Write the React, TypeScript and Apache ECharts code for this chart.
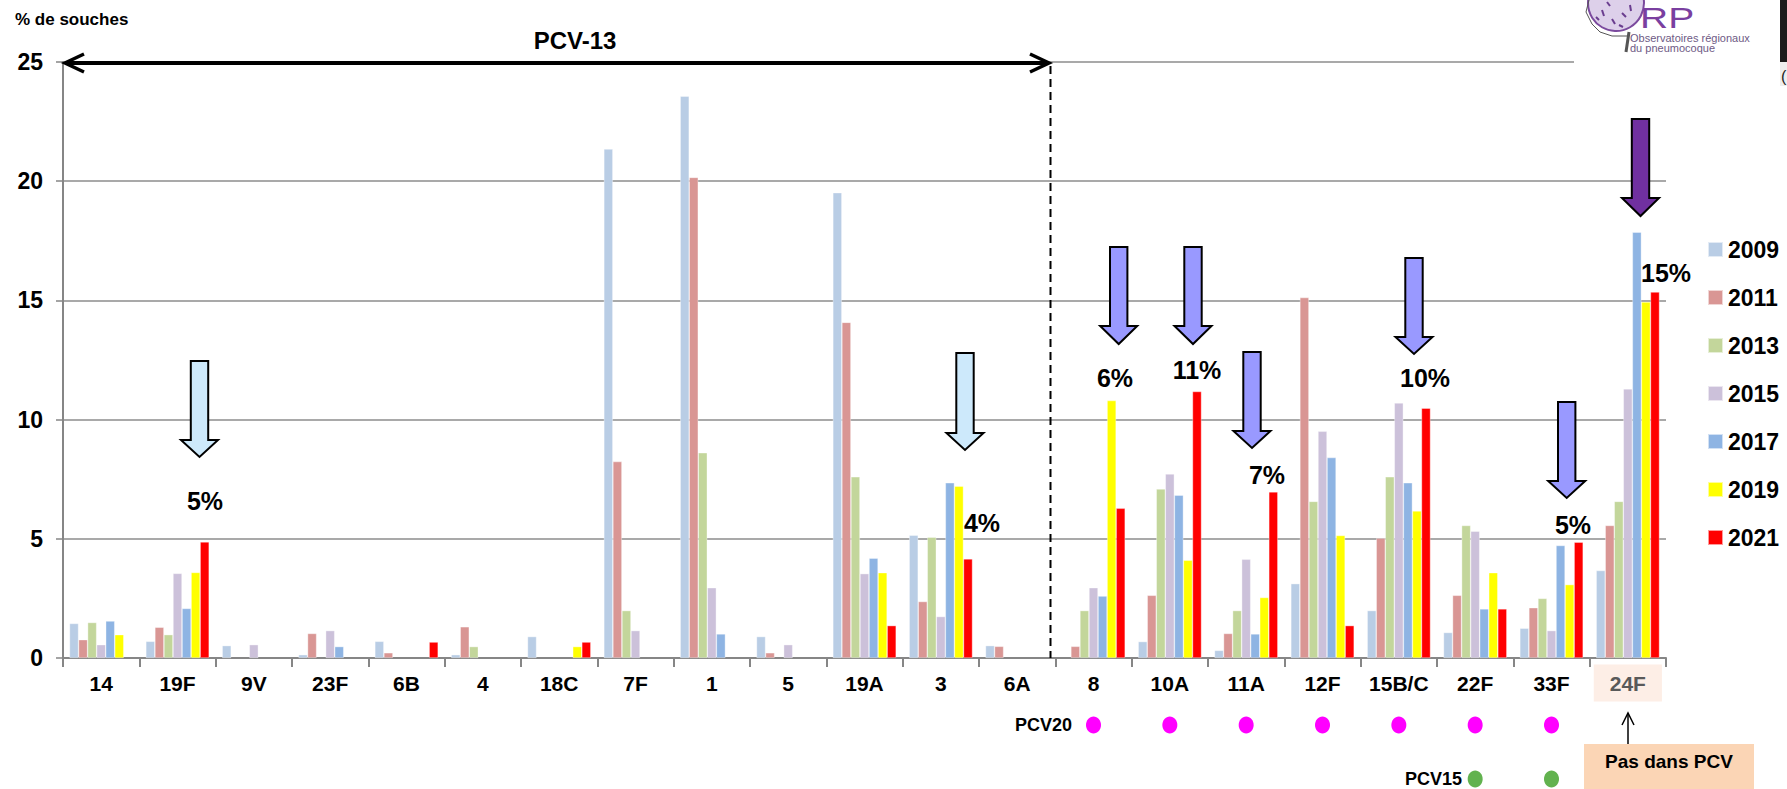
import React, { useEffect, useRef } from 'react';
import * as echarts from 'echarts';

const categories = ['14', '19F', '9V', '23F', '6B', '4', '18C', '7F', '1', '5', '19A', '3', '6A', '8', '10A', '11A', '12F', '15B/C', '22F', '33F', '24F'];
const years = ['2009', '2011', '2013', '2015', '2017', '2019', '2021'];
const colors = ['#b9cde5', '#d99694', '#c3d69b', '#ccc1da', '#8eb4e3', '#ffff00', '#ff0000'];

const v2009 = [1.45, 0.70, 0.52, 0.14, 0.70, 0.14, 0.90, 21.35, 23.57, 0.90, 19.52, 5.15, 0.52, null, 0.69, 0.32, 3.12, 1.99, 1.07, 1.25, 3.67];
const v2011 = [0.77, 1.29, null, 1.03, 0.22, 1.31, null, 8.24, 20.16, 0.22, 14.08, 2.37, 0.49, 0.49, 2.63, 1.03, 15.12, 5.03, 2.63, 2.11, 5.56];
const v2013 = [1.49, 0.98, null, null, null, 0.48, null, 1.99, 8.61, null, 7.60, 5.07, null, 1.99, 7.09, 1.99, 6.57, 7.60, 5.56, 2.50, 6.57];
const v2015 = [0.56, 3.55, 0.56, 1.15, null, null, null, 1.15, 2.95, 0.56, 3.54, 1.74, null, 2.95, 7.72, 4.14, 9.51, 10.70, 5.32, 1.15, 11.29];
const v2017 = [1.55, 2.08, null, 0.48, null, null, null, null, 1.01, null, 4.19, 7.35, null, 2.60, 6.83, 1.01, 8.41, 7.35, 2.06, 4.72, 17.86];
const v2019 = [0.98, 3.59, null, null, null, null, 0.48, null, null, null, 3.58, 7.21, null, 10.80, 4.10, 2.54, 5.14, 6.17, 3.58, 3.08, 14.93];
const v2021 = [null, 4.87, null, null, 0.67, null, 0.67, null, null, null, 1.36, 4.16, null, 6.28, 11.18, 6.97, 1.36, 10.48, 2.06, 4.86, 15.35];
const seriesValues = [v2009, v2011, v2013, v2015, v2017, v2019, v2021];

const yTicks = [0, 5, 10, 15, 20, 25];
const pcv20 = ['8', '10A', '11A', '12F', '15B/C', '22F', '33F'];
const pcv15 = ['22F', '33F'];

const FONT = 'Liberation Sans, Arial, sans-serif';

function arrowPts(cx: number, top: number, base: number, tip: number, sh = 8.7, hh = 18.5) {
  return [[cx - sh, top], [cx + sh, top], [cx + sh, base], [cx + hh, base], [cx, tip], [cx - hh, base], [cx - sh, base]];
}

const GRID = { left: 63, right: 121, top: 62, bottom: 131 };

export default function App() {
  const ref = useRef<HTMLDivElement>(null);
  useEffect(() => {
    document.body.style.margin = '0';
    if (!ref.current) return;
    const chart = echarts.init(ref.current, null, { renderer: 'svg' });
    const catW = (1787 - GRID.left - GRID.right) / categories.length;
    const cx = (c: string) => GRID.left + catW * (categories.indexOf(c) + 0.5);

    const arrows = [
      { x: 199.5, top: 361, base: 440, tip: 457, fill: '#cde9fb' },
      { x: 965, top: 353, base: 433, tip: 450, fill: '#cde9fb' },
      { x: 1118.7, top: 247, base: 326, tip: 344, fill: '#9999ff' },
      { x: 1193, top: 247, base: 326, tip: 344, fill: '#9999ff' },
      { x: 1252, top: 352, base: 431, tip: 448, fill: '#9999ff' },
      { x: 1414, top: 258, base: 337, tip: 354, fill: '#9999ff' },
      { x: 1566.7, top: 402, base: 481, tip: 498, fill: '#9999ff' },
      { x: 1640.5, top: 119, base: 198, tip: 216, fill: '#7030a0' },
    ];
    const pctLabels = [
      { t: '5%', x: 205, y: 501 },
      { t: '4%', x: 982, y: 523 },
      { t: '6%', x: 1115, y: 378 },
      { t: '11%', x: 1197, y: 370 },
      { t: '7%', x: 1267, y: 475 },
      { t: '10%', x: 1425, y: 378 },
      { t: '5%', x: 1573, y: 525 },
      { t: '15%', x: 1666, y: 273 },
    ];

    const graphic: any[] = [];
    // logo background
    graphic.push({ type: 'rect', shape: { x: 1574, y: 0, width: 213, height: 72 }, style: { fill: '#ffffff' }, z: 50 });
    graphic.push({ type: 'circle', shape: { cx: 1616, cy: 3, r: 28 }, style: { fill: '#ddd0ea', stroke: '#7b4a9e', lineWidth: 2 }, z: 51 });
    const bact = [[1602, 10, 1604, 16], [1612, 19, 1615, 24], [1622, 13, 1626, 17], [1630, 5, 1631, 11], [1607, 2, 1610, 6], [1619, 25, 1623, 27], [1596, 17, 1599, 20]];
    bact.forEach(b => graphic.push({ type: 'line', shape: { x1: b[0], y1: b[1], x2: b[2], y2: b[3] }, style: { stroke: '#6a3d8f', lineWidth: 2 }, z: 52 }));
    graphic.push({ type: 'polyline', shape: { points: [[1589, 0], [1586, 12], [1592, 24], [1600, 32], [1612, 36], [1627, 36]] }, style: { stroke: '#555', lineWidth: 1, fill: null }, z: 51 });
    graphic.push({ type: 'line', shape: { x1: 1629, y1: 32, x2: 1626, y2: 52 }, style: { stroke: '#555', lineWidth: 3 }, z: 52 });
    graphic.push({ type: 'text', x: 1640, y: 3, scaleX: 1.3, originX: 0, originY: 0, style: { text: 'RP', fill: '#7a3fa0', font: `30px ${FONT}`, textVerticalAlign: 'top' }, z: 52 });
    graphic.push({ type: 'text', x: 1630, y: 38, style: { text: 'Observatoires régionaux', fill: '#6e5a85', font: `11px ${FONT}`, textVerticalAlign: 'middle' }, z: 52 });
    graphic.push({ type: 'text', x: 1630, y: 48, style: { text: 'du pneumocoque', fill: '#6e5a85', font: `11px ${FONT}`, textVerticalAlign: 'middle' }, z: 52 });
    graphic.push({ type: 'rect', shape: { x: 1780, y: 0, width: 7, height: 62 }, style: { fill: '#1c1c1c' }, z: 52 });
    graphic.push({ type: 'rect', shape: { x: 1780, y: 62, width: 7, height: 24 }, style: { fill: '#eeeeee' }, z: 52 });
    graphic.push({ type: 'text', x: 1781, y: 76, style: { text: '(', fill: '#222', font: `16px ${FONT}`, textVerticalAlign: 'middle' }, z: 53 });

    // y axis title
    graphic.push({ type: 'text', x: 15, y: 19, style: { text: '% de souches', fill: '#000', font: `bold 17px ${FONT}`, textVerticalAlign: 'middle' }, z: 20 });
    // PCV-13 double arrow
    graphic.push({ type: 'line', shape: { x1: 65, y1: 63, x2: 1048, y2: 63 }, style: { stroke: '#000', lineWidth: 4 }, z: 20 });
    graphic.push({ type: 'polyline', shape: { points: [[84, 54], [65, 63], [84, 72]] }, style: { stroke: '#000', lineWidth: 3.5, fill: null }, z: 20 });
    graphic.push({ type: 'polyline', shape: { points: [[1030, 54], [1049, 63], [1030, 72]] }, style: { stroke: '#000', lineWidth: 3.5, fill: null }, z: 20 });
    graphic.push({ type: 'text', x: 575, y: 40, style: { text: 'PCV-13', fill: '#000', font: `bold 24px ${FONT}`, textAlign: 'center', textVerticalAlign: 'middle' }, z: 20 });
    graphic.push({ type: 'line', shape: { x1: 1050.5, y1: 66, x2: 1050.5, y2: 658 }, style: { stroke: '#000', lineWidth: 2, lineDash: [8, 5] }, z: 20 });

    arrows.forEach(a => graphic.push({ type: 'polygon', shape: { points: arrowPts(a.x, a.top, a.base, a.tip) }, style: { fill: a.fill, stroke: '#000', lineWidth: 2 }, z: 20 }));
    pctLabels.forEach(p => graphic.push({ type: 'text', x: p.x, y: p.y, style: { text: p.t, fill: '#000', font: `bold 25px ${FONT}`, textAlign: 'center', textVerticalAlign: 'middle' }, z: 21 }));

    // PCV20 / PCV15 rows
    graphic.push({ type: 'text', x: 1072, y: 725, style: { text: 'PCV20', fill: '#000', font: `bold 18px ${FONT}`, textAlign: 'right', textVerticalAlign: 'middle' }, z: 20 });
    pcv20.forEach(c => graphic.push({ type: 'ellipse', shape: { cx: cx(c), cy: 725, rx: 7.5, ry: 8.5 }, style: { fill: '#ff00ff' }, z: 20 }));
    graphic.push({ type: 'text', x: 1462, y: 779, style: { text: 'PCV15', fill: '#000', font: `bold 18px ${FONT}`, textAlign: 'right', textVerticalAlign: 'middle' }, z: 20 });
    pcv15.forEach(c => graphic.push({ type: 'ellipse', shape: { cx: cx(c), cy: 779, rx: 7.5, ry: 8.5 }, style: { fill: '#62b24f' }, z: 20 }));

    // Pas dans PCV box
    graphic.push({ type: 'rect', shape: { x: 1584, y: 744, width: 170, height: 45 }, style: { fill: '#fbd5b5' }, z: 20 });
    graphic.push({ type: 'text', x: 1669, y: 761, style: { text: 'Pas dans PCV', fill: '#000', font: `bold 19px ${FONT}`, textAlign: 'center', textVerticalAlign: 'middle' }, z: 21 });
    graphic.push({ type: 'line', shape: { x1: 1628, y1: 744, x2: 1628, y2: 713 }, style: { stroke: '#000', lineWidth: 1.5 }, z: 21 });
    graphic.push({ type: 'polyline', shape: { points: [[1622, 725], [1628, 713], [1634, 725]] }, style: { stroke: '#000', lineWidth: 1.5, fill: null }, z: 21 });

    const labelBase = { fontSize: 21, fontWeight: 'bold', fontFamily: FONT, lineHeight: 22, padding: [8, 16] };

    chart.setOption({
      animation: false,
      backgroundColor: '#ffffff',
      grid: { ...GRID, containLabel: false },
      legend: {
        orient: 'vertical',
        left: 1702,
        top: 233,
        icon: 'rect',
        itemWidth: 15,
        itemHeight: 15,
        itemGap: 25,
        data: years,
        textStyle: { fontSize: 23, fontWeight: 'bold', fontFamily: FONT, color: '#000', lineHeight: 20 },
      },
      xAxis: {
        type: 'category',
        data: categories,
        axisLine: { lineStyle: { color: '#868686', width: 2 } },
        axisTick: { show: true, length: 9, lineStyle: { color: '#868686', width: 2 } },
        axisLabel: {
          interval: 0,
          margin: 14,
          formatter: (v: string) => (v === '24F' ? `{h|${v}}` : `{n|${v}}`),
          rich: {
            n: { ...labelBase, color: '#000' },
            h: { ...labelBase, color: '#595959', backgroundColor: '#fdeee6' },
          },
        },
      },
      yAxis: {
        type: 'value',
        min: yTicks[0],
        max: yTicks[yTicks.length - 1],
        interval: 5,
        axisLine: { show: true, lineStyle: { color: '#868686', width: 2 } },
        axisTick: { show: true, length: 7, lineStyle: { color: '#868686', width: 1.5 } },
        axisLabel: { margin: 20, fontSize: 23, fontWeight: 'bold', fontFamily: FONT, color: '#000' },
        splitLine: { show: true, lineStyle: { color: '#8c8c8c', width: 1.5 } },
      },
      series: years.map((y, i) => ({
        name: y,
        type: 'bar',
        data: seriesValues[i],
        barGap: '0%',
        barCategoryGap: '17%',
        itemStyle: { color: colors[i], borderColor: 'rgba(255,255,255,0.6)', borderWidth: 0.6 },
      })),
      graphic,
    });
    return () => chart.dispose();
  }, []);
  return <div ref={ref} style={{ width: 1787, height: 789 }} />;
}
